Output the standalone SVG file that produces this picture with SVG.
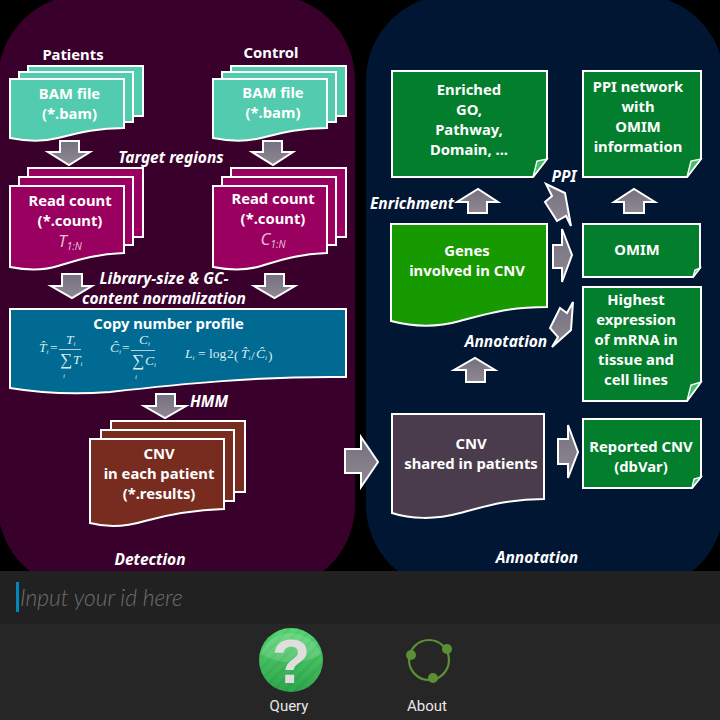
<svg xmlns="http://www.w3.org/2000/svg" width="720" height="720" viewBox="0 0 720 720">
<style>
.t{font-family:"Noto Sans","DejaVu Sans",sans-serif;font-weight:700;font-size:14.8px;fill:#fff;text-anchor:middle;stroke:none}
.i{font-style:italic;font-size:15.5px}
.n{font-family:"Open Sans",sans-serif;font-weight:400;font-style:italic;font-size:17px;fill:#e8c4da}
.f{font-family:"Liberation Serif",serif;font-size:13.5px;fill:#d8ecf2;stroke:none}
.fi{font-style:italic}
.sum{font-size:17px}
.sub{font-size:7px;font-style:italic}
.s{stroke:#fff;stroke-width:2;stroke-linejoin:miter}
.arrow{fill:url(#ag);stroke:#fff;stroke-width:2;stroke-linejoin:miter}
.fold{fill:#3fc06a;stroke:#fff;stroke-width:1.4}
.teal{fill:#52cbae}.mag{fill:#9a0060}.brown{fill:#782c1f}.green{fill:#037e2c}
</style>
<defs>
<linearGradient id="ag" x1="0" y1="0" x2="0" y2="1"><stop offset="0" stop-color="#75707f"/><stop offset="1" stop-color="#8f8992"/></linearGradient>
<linearGradient id="qg" x1="0" y1="0" x2="0" y2="1"><stop offset="0" stop-color="#57d873"/><stop offset="1" stop-color="#2ea64c"/></linearGradient>
<pattern id="stripes" width="8" height="8" patternUnits="userSpaceOnUse" patternTransform="rotate(-45)"><rect width="8" height="3" fill="#000" opacity="0.050"/></pattern>
</defs>
<rect width="720" height="720" fill="#000"/>
<rect id="panel-detection" x="-2" y="-5" width="357" height="595" rx="85" fill="#3a002c"/>
<rect id="panel-annotation" x="366" y="-5" width="358" height="595" rx="85" fill="#011632"/>

<g id="connectors">
<path class="arrow" d="M60 141H79V152H90L69 165L48 152H60Z"/>
<path class="arrow" d="M263 141H282V152H293L273 165L252 152H263Z"/>
<path class="arrow" d="M62 274H82V286H92L72 298L51 286H62Z"/>
<path class="arrow" d="M265 274H284V286H295L274.500 298L254 286H265Z"/>
<path class="arrow" d="M156 394H175V406H186L165 418L144 406H156Z"/>
<path class="arrow" d="M345 449H361V437L378 462L361 487V473H345Z"/>
<path class="arrow" d="M558 439H568V425L578 452L568 478V464H558Z"/>
<path class="arrow" d="M466 382V370H454L475 358L495 370H485V382Z"/>
<path class="arrow" d="M468 213V202H457L478 189L498 202H487V213Z"/>
<path class="arrow" d="M624 213V202H614L634 189L655 202H644V213Z"/>
<path class="arrow" d="M553 245H562V229L572 255L562 282V268H553Z"/>
<path class="arrow" d="M546 184L565 193L571 226L566 216L557 221L545 202L552 196Z"/>
<path class="arrow" d="M573 302L571 330L552 347L558 337L550 328L560 308L567 313Z"/>
</g>

<g id="bam-patients">
<rect class="s teal" x="28" y="66" width="115" height="50"/><rect class="s teal" x="19" y="72" width="114" height="50"/>
<path class="s teal" d="M10 79H124V128C95 128 78 133 58 138C42 142 25 141 10 138Z"/>
<text class="t" x="69.500" y="99">BAM file</text><text class="t" x="69.500" y="119">(*.bam)</text>
</g>
<g id="bam-control">
<rect class="s teal" x="231" y="66" width="115" height="50"/><rect class="s teal" x="222" y="72" width="114" height="50"/>
<path class="s teal" d="M213 79H327V128C298 128 281 133 261 138C245 142 228 141 213 138Z"/>
<text class="t" x="273" y="98">BAM file</text><text class="t" x="273" y="118">(*.bam)</text>
</g>
<g id="count-patients">
<rect class="s mag" x="28" y="168" width="115" height="69"/><rect class="s mag" x="19" y="177" width="114" height="68"/>
<path class="s mag" d="M10 186H124V253C95 254 78 260 58 266C42 271 25 270 10 267Z"/>
<text class="t" x="70" y="206">Read count</text><text class="t" x="70" y="226">(*.count)</text>
<text class="t n" x="70" y="247">T<tspan font-size="10" dy="3">1:N</tspan></text>
</g>
<g id="count-control">
<rect class="s mag" x="231" y="168" width="115" height="69"/><rect class="s mag" x="222" y="177" width="114" height="68"/>
<path class="s mag" d="M213 186H327V253C298 254 281 260 261 266C245 271 228 270 213 267Z"/>
<text class="t" x="273" y="204">Read count</text><text class="t" x="273" y="224">(*.count)</text>
<text class="t n" x="273" y="245">C<tspan font-size="10" dy="3">1:N</tspan></text>
</g>
<g id="copy-number-profile">
<path class="s" fill="#006a93" d="M10 309H346V377C260 376 180 384 110 392C70 395 40 393 10 388Z"/>
<text class="t" x="168.500" y="329">Copy number profile</text>
<g id="formulas">
<text class="f fi" x="39" y="352">T̂<tspan class="sub" dy="2">i</tspan></text><text class="f" x="50" y="352">=</text>
<text class="f fi" x="66" y="344">T<tspan class="sub" dy="2">i</tspan></text>
<path d="M59 349.500H81" stroke="#d8ecf2" stroke-width="0.800"/>
<text class="f sum" x="60" y="365">∑</text><text class="f fi" x="73" y="364">T<tspan class="sub" dy="2">i</tspan></text>
<text class="f sub" x="63" y="378">i</text>
<text class="f fi" x="110" y="352">Ĉ<tspan class="sub" dy="2">i</tspan></text><text class="f" x="122" y="352">=</text>
<text class="f fi" x="139" y="344">C<tspan class="sub" dy="2">i</tspan></text>
<path d="M131 350.500H155" stroke="#d8ecf2" stroke-width="0.800"/>
<text class="f sum" x="132" y="366">∑</text><text class="f fi" x="145" y="365">C<tspan class="sub" dy="2">i</tspan></text>
<text class="f sub" x="135" y="379">i</text>
<text class="f fi" x="185" y="358">L<tspan class="sub" dy="2">i</tspan></text>
<text class="f" x="198" y="358">= log</text>
<text class="f" x="227" y="358">2</text>
<text class="f" x="234" y="360" font-size="20">(</text>
<text class="f fi" x="241" y="358">T̂<tspan class="sub" dy="2">i</tspan></text>
<text class="f" x="251" y="360" font-size="17">/</text>
<text class="f fi" x="256" y="358">Ĉ<tspan class="sub" dy="2">i</tspan></text>
<text class="f" x="268" y="360" font-size="20">)</text>
</g>
</g>
<g id="cnv-each-patient">
<rect class="s brown" x="111" y="421" width="134" height="71"/><rect class="s brown" x="101" y="430" width="133" height="71"/>
<path class="s brown" d="M90 439H224V509C195 510 170 514 145 521C125 527 105 527 90 523Z"/>
<text class="t" x="159" y="459">CNV</text><text class="t" x="159" y="479">in each patient</text><text class="t" x="159" y="499">(*.results)</text>
</g>

<g id="enriched">
<path class="s green" d="M392 71H547V159L533 177H392Z"/><path class="fold" d="M533 177L537 161L547 159Z"/>
<text class="t" x="469" y="95">Enriched</text><text class="t" x="469" y="115">GO,</text><text class="t" x="469" y="135">Pathway,</text><text class="t" x="469" y="155">Domain, ...</text>
</g>
<g id="ppi-network">
<path class="s green" d="M583 71H701V159L687 177H583Z"/><path class="fold" d="M687 177L691 161L701 159Z"/>
<text class="t" x="638" y="92">PPI network</text><text class="t" x="638" y="112">with</text><text class="t" x="638" y="132">OMIM</text><text class="t" x="638" y="152">information</text>
</g>
<g id="genes">
<path class="s" fill="#169a00" d="M391 224H547V307C510 307 490 313 460 321C435 328 410 326 391 321Z"/>
<text class="t" x="467" y="256">Genes</text><text class="t" x="467" y="276">involved in CNV</text>
</g>
<g id="omim">
<path class="s green" d="M583 224H700V268L693 277H583Z"/><path class="fold" d="M693 277L695 270L700 268Z"/>
<text class="t" x="637" y="255">OMIM</text>
</g>
<g id="expression">
<path class="s green" d="M583 287H701V382L687 401H583Z"/><path class="fold" d="M687 401L691 385L701 382Z"/>
<text class="t" x="636" y="305">Highest</text><text class="t" x="636" y="325">expression</text><text class="t" x="636" y="345">of mRNA in</text><text class="t" x="636" y="365">tissue and</text><text class="t" x="636" y="385">cell lines</text>
</g>
<g id="shared">
<path class="s" fill="#4b3c4d" d="M392 414H544V499C510 499 490 505 460 513C435 520 410 519 392 513Z"/>
<text class="t" x="471" y="449">CNV</text><text class="t" x="471" y="469">shared in patients</text>
</g>
<g id="reported">
<path class="s green" d="M583 419H701V477L692 488H583Z"/><path class="fold" d="M692 488L694 479L701 477Z"/>
<text class="t" x="641" y="452">Reported CNV</text><text class="t" x="641" y="472">(dbVar)</text>
</g>

<g id="labels">
<text class="t" x="73" y="60">Patients</text>
<text class="t" x="271" y="58">Control</text>
<text class="t i" x="171" y="163">Target regions</text>
<text class="t i" x="164" y="284">Library-size &amp; GC-</text>
<text class="t i" x="164" y="304">content normalization</text>
<text class="t i" x="209" y="407">HMM</text>
<text class="t i" x="150" y="565">Detection</text>
<text class="t i" x="412" y="209">Enrichment</text>
<text class="t i" x="564" y="182">PPI</text>
<text class="t i" x="506" y="347">Annotation</text>
<text class="t i" x="537" y="563">Annotation</text>
</g>

<g id="toolbar">
<rect x="0" y="571" width="720" height="53" fill="#212121"/>
<rect x="0" y="624" width="720" height="96" fill="#262626"/>
<rect x="16" y="582" width="3" height="30" fill="#0088bb"/>
<text x="20" y="606" font-family="Lato,sans-serif" font-style="italic" font-weight="300" font-size="22.800" fill="#6e6e6e">Input your id here</text>
</g>
<g id="query">
<circle cx="291" cy="660" r="32" fill="url(#qg)"/>
<circle cx="291" cy="660" r="32" fill="url(#stripes)"/>
<path d="M261 654A32 32 0 0 1 321 654C300 666 280 664 261 654Z" fill="#fff" opacity="0.150"/>
<text x="291" y="683" text-anchor="middle" font-family="'Liberation Sans',sans-serif" font-weight="700" font-size="63" fill="#dedede">?</text>
<text x="289" y="711" text-anchor="middle" font-family="Roboto,sans-serif" font-size="15" fill="#e6e6e6">Query</text>
</g>
<g id="about">
<circle cx="429" cy="660" r="20" fill="none" stroke="#5b8f33" stroke-width="2.200"/>
<circle cx="411" cy="655" r="5" fill="#5b8f33"/><circle cx="447" cy="649" r="5" fill="#5b8f33"/><circle cx="433" cy="678" r="5" fill="#5b8f33"/>
<text x="427" y="711" text-anchor="middle" font-family="Roboto,sans-serif" font-size="15" fill="#e6e6e6">About</text>
</g>
</svg>
